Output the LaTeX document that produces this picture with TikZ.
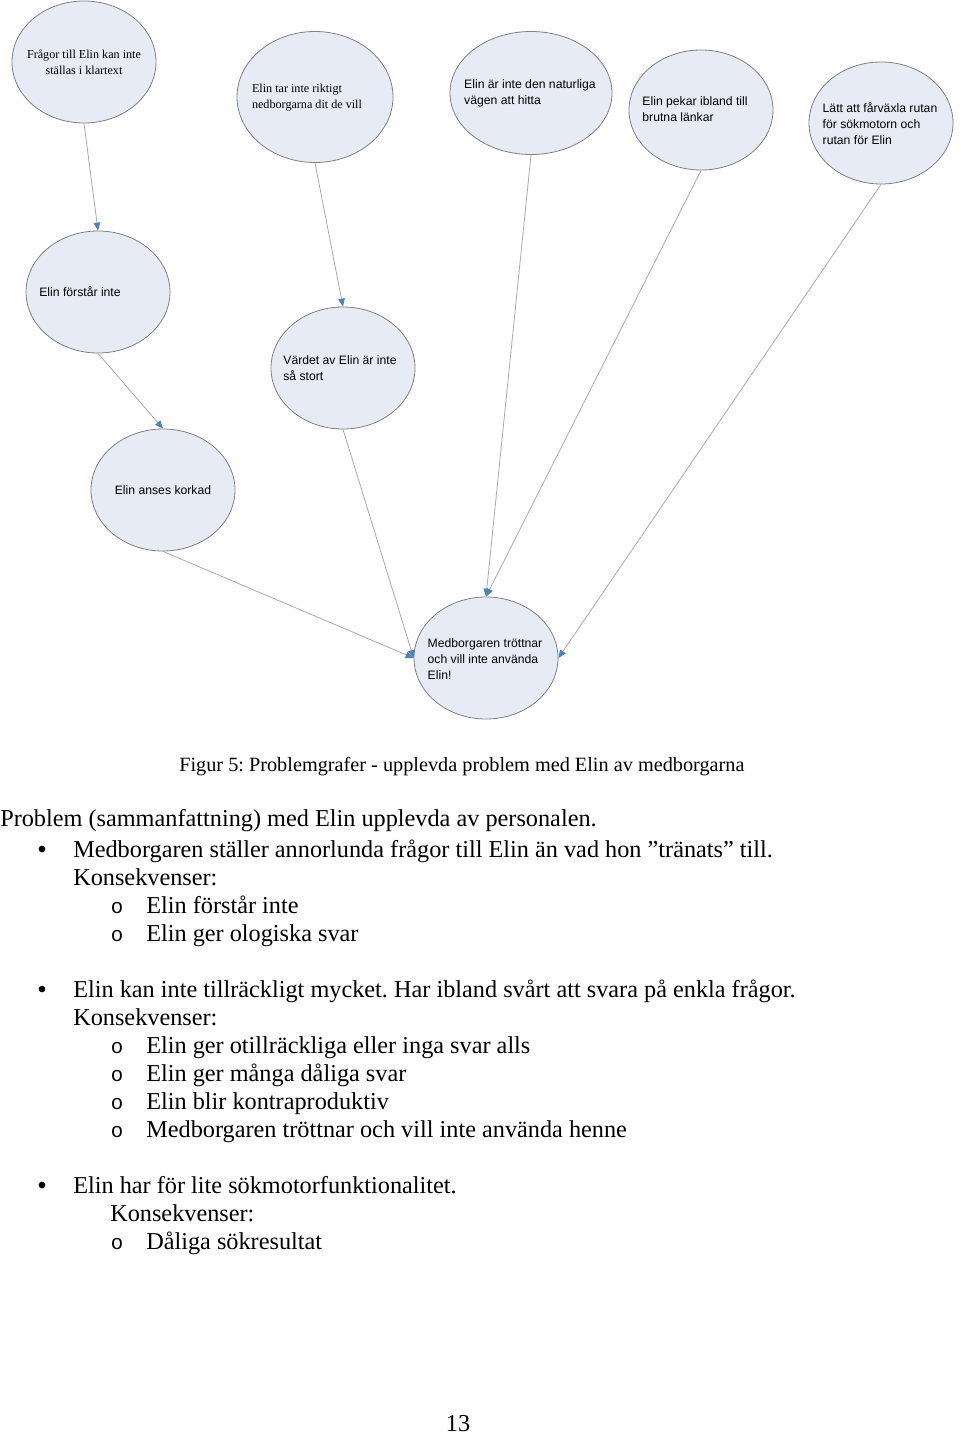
\documentclass[tikz,border=0pt]{standalone}
\usepackage{fontspec}
\setmainfont{Liberation Serif}
\setsansfont{Liberation Sans}
\setmonofont{Liberation Mono}
\usetikzlibrary{shapes.geometric,arrows.meta}
\definecolor{efill}{HTML}{E6EBF6}
\definecolor{edraw}{HTML}{808080}
\definecolor{cline}{HTML}{ABABAB}
\definecolor{ctip}{HTML}{4F81BD}
\frenchspacing
\begin{document}
\frenchspacing
\begin{tikzpicture}[x=0.75pt,y=-0.75pt,
  ell/.style={ellipse, draw=edraw, fill=efill, line width=0.6pt, inner sep=0pt, minimum width=108pt, minimum height=91.5pt},
  conn/.style={draw=cline, line width=0.6pt, -{Triangle[length=6pt,width=5pt,color=ctip]}},
  ssf/.style={inner sep=0pt, align=left, font=\sffamily\fontsize{9.15pt}{12pt}\selectfont},
  srm/.style={inner sep=0pt, font=\rmfamily\fontsize{9.1pt}{12pt}\selectfont},
  body/.style={inner sep=0pt, anchor=base west, font=\rmfamily\fontsize{18.2pt}{21pt}\selectfont\frenchspacing},
  bul/.style={circle, fill=black, inner sep=0pt, minimum size=5pt},
  subb/.style={inner sep=0pt, anchor=base, font=\ttfamily\fontsize{15.5pt}{18pt}\selectfont}]
\useasboundingbox (0,0) rectangle (960,1434);
\fill[white] (0,0) rectangle (960,1434);

% ellipses
\node[ell] (e1) at (84,62) {};
\node[ell, minimum width=117pt, minimum height=98.25pt] (e2) at (315,97) {};
\node[ell, minimum width=121.5pt, minimum height=92.25pt] (e3) at (531,93) {};
\node[ell, minimum height=90pt] (e4) at (701,110) {};
\node[ell] (e5) at (881,123) {};
\node[ell] (e6) at (98,292) {};
\node[ell] (e7) at (343,368) {};
\node[ell] (e8) at (163,490) {};
\node[ell] (e9) at (486,658) {};

% texts
\node[srm, align=center] (t1) at (84,62) {Frågor till Elin kan inte\\ställas i klartext};
\node[srm, align=left] (t2) at (307,98) {Elin tar inte riktigt\\nedborgarna dit de vill};
\node[ssf] (t3) at (530,93.5) {Elin är inte den naturliga\\vägen att hitta};
\node[ssf] (t4) at (695,109) {Elin pekar ibland till\\brutna länkar};
\node[ssf] (t5) at (880,123.5) {Lätt att fårväxla rutan\\för sökmotorn och\\rutan för Elin};
\node[ssf] (t6) at (80,291.5) {Elin förstår inte};
\node[ssf] (t7) at (340,368.5) {Värdet av Elin är inte\\så stort};
\node[ssf] (t8) at (163,490.5) {Elin anses korkad};
\node[ssf] (t9) at (485,659) {Medborgaren tröttnar\\och vill inte använda\\Elin!};

% connectors
\draw[conn] (e1.south) -- (e6.north);
\draw[conn] (e2.south) -- (e7.north);
\draw[conn] (e6.south) -- (e8.north);
\draw[conn] (e7.south) -- (e9.west);
\draw[conn] (e8.south) -- (e9.west);
\draw[conn] (e3.south) -- (e9.north);
\draw[conn] (e4.south) -- (e9.north);
\draw[conn] (e5.south) -- (e9.east);

% caption
\node[inner sep=0pt, anchor=base west, font=\rmfamily\fontsize{15.2pt}{18pt}\selectfont\frenchspacing] (cap) at (179,771) {Figur 5: Problemgrafer - upplevda problem med Elin av medborgarna};

% body text
\node[body] (l0) at (0,826) {Problem (sammanfattning) med Elin upplevda av personalen.};
\node[bul] (b1) at (42,849) {};
\node[body] (l1) at (73,857) {Medborgaren ställer annorlunda frågor till Elin än vad hon ”tränats” till.};
\node[body] (l2) at (73,885) {Konsekvenser:};
\node[subb] (o1) at (117,913) {o};
\node[body] (l3) at (146,913) {Elin förstår inte};
\node[subb] (o2) at (117,941) {o};
\node[body] (l4) at (146,941) {Elin ger ologiska svar};

\node[bul] (b2) at (42,989) {};
\node[body] (l5) at (73,997) {Elin kan inte tillräckligt mycket. Har ibland svårt att svara på enkla frågor.};
\node[body] (l6) at (73,1025) {Konsekvenser:};
\node[subb] (o3) at (117,1053) {o};
\node[body] (l7) at (146,1053) {Elin ger otillräckliga eller inga svar alls};
\node[subb] (o4) at (117,1081) {o};
\node[body] (l8) at (146,1081) {Elin ger många dåliga svar};
\node[subb] (o5) at (117,1109) {o};
\node[body] (l9) at (146,1109) {Elin blir kontraproduktiv};
\node[subb] (o6) at (117,1137) {o};
\node[body] (l10) at (146,1137) {Medborgaren tröttnar och vill inte använda henne};

\node[bul] (b3) at (42,1185) {};
\node[body] (l11) at (73,1193) {Elin har för lite sökmotorfunktionalitet.};
\node[body] (l12) at (110,1221) {Konsekvenser:};
\node[subb] (o7) at (117,1249) {o};
\node[body] (l13) at (146,1249) {Dåliga sökresultat};

% page number
\node[inner sep=0pt, anchor=base, font=\rmfamily\fontsize{18.2pt}{21pt}\selectfont] (pg) at (458,1431) {13};
\end{tikzpicture}
\end{document}
